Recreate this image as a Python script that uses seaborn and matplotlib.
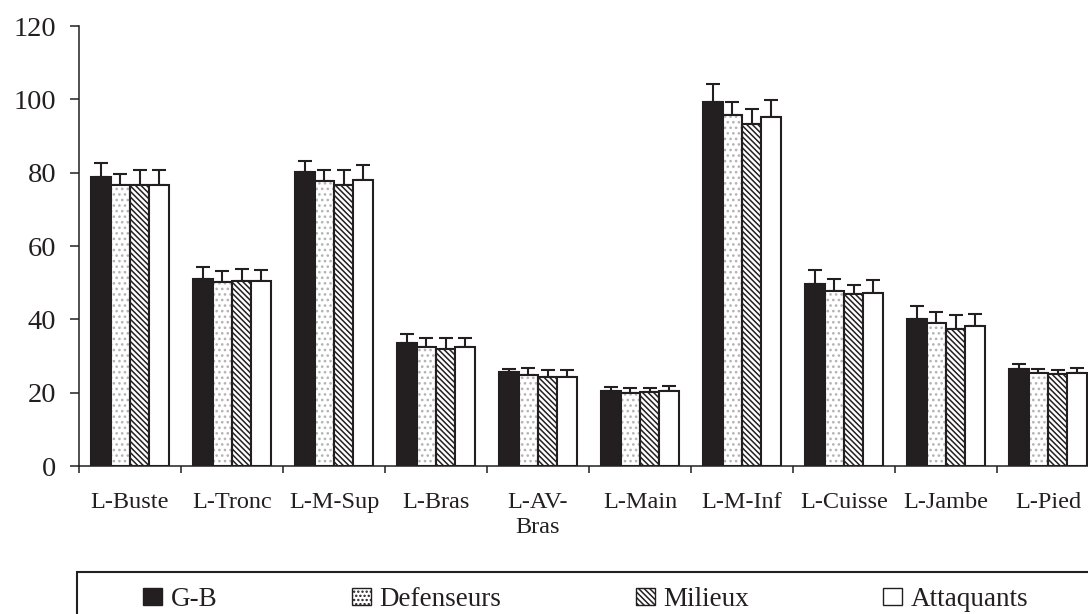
import numpy as np
import pandas as pd
import matplotlib
matplotlib.use("Agg")
import matplotlib.pyplot as plt
from matplotlib.patches import Patch, Rectangle
import seaborn as sns

# Segment lengths (cm) by playing position, with standard deviations
segments = ["L-Buste", "L-Tronc", "L-M-Sup", "L-Bras", "L-AV-Bras",
            "L-Main", "L-M-Inf", "L-Cuisse", "L-Jambe", "L-Pied"]
tick_labels = ["L-Buste", "L-Tronc", "L-M-Sup", "L-Bras", "L-AV-\nBras",
               "L-Main", "L-M-Inf", "L-Cuisse", "L-Jambe", "L-Pied"]
postes = ["G-B", "Defenseurs", "Milieux", "Attaquants"]

gb_mean = [78.7, 51.1, 80.2, 33.5, 25.6, 20.5, 99.3, 49.6, 40.0, 26.4]
def_mean = [76.6, 50.1, 77.6, 32.4, 24.8, 19.9, 95.8, 47.6, 39.0, 25.4]
mil_mean = [76.6, 50.5, 76.6, 31.8, 24.3, 20.1, 93.4, 46.9, 37.5, 25.0]
att_mean = [76.6, 50.4, 78.1, 32.4, 24.3, 20.4, 95.3, 47.1, 38.3, 25.3]

gb_sd = [4.0, 3.3, 3.0, 2.4, 0.8, 1.0, 4.9, 3.9, 3.6, 1.4]
def_sd = [3.1, 3.0, 3.1, 2.6, 2.0, 1.5, 3.5, 3.4, 2.9, 1.0]
mil_sd = [4.1, 3.1, 4.1, 3.2, 2.0, 1.3, 4.0, 2.6, 3.6, 1.3]
att_sd = [4.1, 3.1, 4.1, 2.6, 2.0, 1.5, 4.5, 3.5, 3.2, 1.5]

y_ticks = [0, 20, 40, 60, 80, 100, 120]

means = [gb_mean, def_mean, mil_mean, att_mean]
sds = [gb_sd, def_sd, mil_sd, att_sd]

df = pd.DataFrame({
    "segment": segments * len(postes),
    "poste": [p for p in postes for _ in segments],
    "valeur": [v for m in means for v in m],
})

sns.set_style("white")
plt.rcParams["font.family"] = ["Liberation Serif", "DejaVu Serif"]
plt.rcParams["hatch.linewidth"] = 1.1

INK = "#231f20"
DOT = "#b4b4b4"
DOTS = "..."
STRIPES = "\\\\\\\\\\\\"

fig = plt.figure(figsize=(10.88, 6.14), dpi=100)
W, H = 1088, 614
ax = fig.add_axes([79 / W, 1 - 466 / H, 1020 / W, 440 / H])

sns.barplot(data=df, x="segment", y="valeur", hue="poste",
            order=segments, hue_order=postes, width=0.755,
            errorbar=None, legend=False, ax=ax, zorder=2)

# bar styling per position
styles = [
    dict(facecolor=INK, edgecolor=INK, hatch=None),
    dict(facecolor="white", edgecolor=DOT, hatch=DOTS),
    dict(facecolor="white", edgecolor=INK, hatch=STRIPES),
    dict(facecolor="white", edgecolor=INK, hatch=None),
]

bar_containers = list(ax.containers)
for i, cont in enumerate(bar_containers):
    st = styles[i]
    xs, tops = [], []
    for bar in cont:
        bar.set_facecolor(st["facecolor"])
        bar.set_edgecolor(st["edgecolor"])
        bar.set_hatch(st["hatch"])
        if i == 1:
            bar.set_linewidth(0)
            ax.add_patch(Rectangle(bar.get_xy(), bar.get_width(), bar.get_height(),
                                   fill=False, edgecolor=INK, linewidth=1.5, zorder=3))
        else:
            bar.set_linewidth(1.5)
        xs.append(bar.get_x() + bar.get_width() / 2)
        tops.append(bar.get_height())
    err = np.array(sds[i])
    ax.errorbar(xs, tops, yerr=[np.zeros_like(err), err], fmt="none",
                ecolor=INK, elinewidth=1.5, capsize=4.7, capthick=1.5, zorder=1)

ax.set_xlim(-0.5, len(segments) - 0.5)
ax.set_ylim(0, 120)
ax.set_yticks(y_ticks)
ax.set_yticklabels([str(t) for t in y_ticks])
ax.set_xticks(range(len(segments)))
ax.set_xticklabels(tick_labels, linespacing=1.2)
ax.set_xticks(np.arange(-0.5, len(segments), 1.0), minor=True)
ax.set_xlabel("")
ax.set_ylabel("")

ax.tick_params(axis="x", which="major", length=0, pad=19, labelsize=17.5, labelcolor=INK)
ax.tick_params(axis="x", which="minor", length=5, width=1.1, color=INK, direction="out", bottom=True)
ax.tick_params(axis="y", length=6.5, width=1.1, color=INK, direction="out", left=True,
               pad=10, labelsize=20.5, labelcolor=INK)

for side in ["top", "right"]:
    ax.spines[side].set_visible(False)
for side in ["left", "bottom"]:
    ax.spines[side].set_color(INK)
    ax.spines[side].set_linewidth(1.1)

# legend
handles = [
    Patch(facecolor=INK, edgecolor=INK, linewidth=1.0),
    Patch(facecolor="white", edgecolor=INK, linewidth=1.0, hatch="...."),
    Patch(facecolor="white", edgecolor=INK, linewidth=1.0, hatch=STRIPES),
    Patch(facecolor="white", edgecolor=INK, linewidth=1.0),
]
fig.legend(handles, postes, loc="upper left", bbox_to_anchor=(143 / W, 1 - 587 / H),
           ncol=4, frameon=False, fontsize=19.5, handlelength=0.7, handleheight=0.63,
           handletextpad=0.33, columnspacing=4.95, borderpad=0, borderaxespad=0,
           labelcolor=INK)
fig.add_artist(Rectangle((77 / W, -0.1), 2.0, (1 - 572 / H) + 0.1,
                         transform=fig.transFigure, fill=False,
                         edgecolor=INK, linewidth=1.5, clip_on=False))

fig.savefig("out.png", dpi=100)
